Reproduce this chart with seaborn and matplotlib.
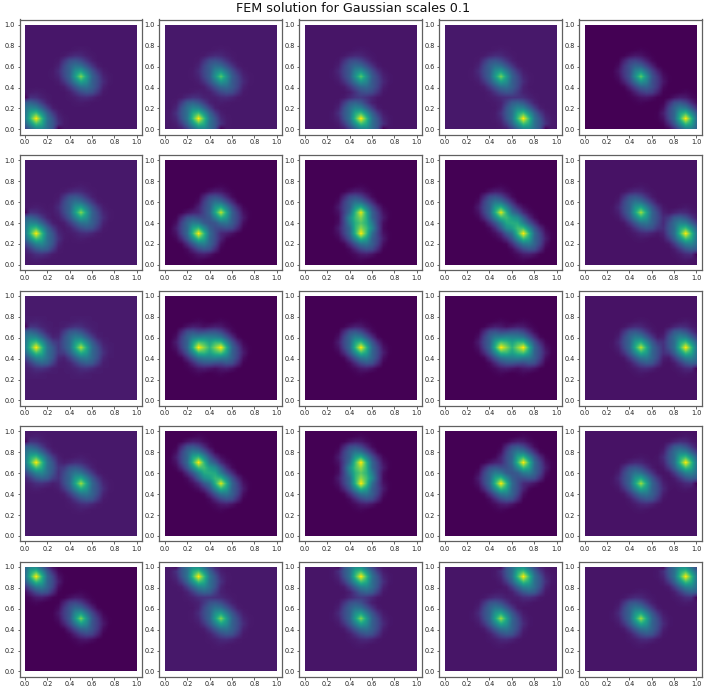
"""FEM solution grid: two Gaussian sources, one panel per second source position."""
import numpy as np
import matplotlib
matplotlib.use("Agg")
import matplotlib.pyplot as plt
from matplotlib.patches import Rectangle
import seaborn as sns

sns.set_style("ticks")
plt.rcParams['font.family'] = ['DejaVu Sans']

tick_values = [0.0, 0.2, 0.4, 0.6, 0.8, 1.0]
title_text = "FEM solution for Gaussian scales 0.1"

# second source position, node index on the 0.05 mesh
source_col = [2, 6, 10, 14, 18]     # x = 0.1 ... 0.9
source_row = [2, 6, 10, 14, 18]     # y = 0.1 ... 0.9, first figure row first
center_node = 10

# one bump, top row is y offset +0.25
bump = [
    [0.00, 0.00, 0.00, 0.00, 0.01, 0.02, 0.01, 0.00, 0.00, 0.00, 0.00],
    [0.00, 0.00, 0.01, 0.05, 0.08, 0.07, 0.03, 0.01, 0.00, 0.00, 0.00],
    [0.00, 0.01, 0.12, 0.24, 0.27, 0.22, 0.12, 0.03, 0.00, 0.00, 0.00],
    [0.00, 0.04, 0.20, 0.32, 0.42, 0.40, 0.27, 0.13, 0.02, 0.00, 0.00],
    [0.01, 0.08, 0.22, 0.33, 0.58, 0.68, 0.48, 0.27, 0.12, 0.02, 0.00],
    [0.01, 0.05, 0.20, 0.34, 0.66, 1.00, 0.66, 0.34, 0.20, 0.05, 0.01],
    [0.00, 0.02, 0.12, 0.27, 0.48, 0.68, 0.58, 0.33, 0.22, 0.08, 0.01],
    [0.00, 0.00, 0.02, 0.13, 0.27, 0.40, 0.42, 0.32, 0.20, 0.04, 0.00],
    [0.00, 0.00, 0.00, 0.03, 0.12, 0.22, 0.27, 0.24, 0.12, 0.01, 0.00],
    [0.00, 0.00, 0.00, 0.01, 0.03, 0.07, 0.08, 0.05, 0.01, 0.00, 0.00],
    [0.00, 0.00, 0.00, 0.00, 0.01, 0.02, 0.01, 0.00, 0.00, 0.00, 0.00],
]

# per panel levels, figure rows top to bottom
background = [
    [0.065, 0.07, 0.06, 0.07, 0.00],
    [0.07, 0.00, 0.00, 0.00, 0.05],
    [0.08, 0.00, 0.00, 0.00, 0.05],
    [0.07, 0.00, 0.00, 0.00, 0.05],
    [0.00, 0.07, 0.06, 0.06, 0.06],
]
center_amp = [
    [0.80, 0.72, 0.72, 0.78, 0.75],
    [0.80, 0.90, 0.95, 0.95, 0.85],
    [0.88, 1.00, 1.00, 1.00, 0.90],
    [0.85, 0.95, 1.00, 1.00, 0.85],
    [0.80, 0.80, 0.80, 0.85, 0.85],
]
source_amp = [
    [1.00, 1.00, 1.00, 1.00, 1.00],
    [1.00, 1.00, 1.00, 1.00, 1.00],
    [1.00, 1.00, 0.00, 1.00, 1.00],
    [1.00, 1.00, 1.00, 1.00, 1.00],
    [1.00, 1.00, 1.00, 1.00, 1.00],
]

# dark notches on the border next to a source: figure row, figure col, node row, node col
edge_dips = [
    (0, 0, 6, 0), (1, 0, 10, 0), (2, 0, 14, 0), (3, 0, 18, 0),
    (0, 0, 0, 6), (0, 1, 0, 10), (0, 2, 0, 14), (0, 3, 0, 18),
    (4, 1, 20, 2), (4, 2, 20, 6), (4, 3, 20, 10), (4, 4, 20, 14),
    (1, 4, 2, 20), (2, 4, 6, 20), (3, 4, 10, 20), (4, 4, 14, 20),
]


def add_bump(field, row, col, amp):
    stamp = np.array(bump)[::-1] * amp
    for i in range(11):
        for j in range(11):
            r, c = row + i - 5, col + j - 5
            if 0 <= r < 21 and 0 <= c < 21:
                field[r, c] += stamp[i, j]


cmap = sns.color_palette("viridis", as_cmap=True)
fig, axes = plt.subplots(5, 5, figsize=(7.06, 6.93))

for i in range(5):
    for j in range(5):
        ax = axes[i, j]
        z = np.full((21, 21), float(background[i][j]))
        add_bump(z, center_node, center_node, center_amp[i][j])
        if source_amp[i][j] > 0:
            add_bump(z, source_row[i], source_col[j], source_amp[i][j])
        for fr, fc, nr, nc in edge_dips:
            if fr == i and fc == j:
                z[nr, nc] = 0.0
        # half a cell past the mesh on each side, then clipped back to the unit square
        im = ax.imshow(z, origin="lower", extent=[-0.025, 1.025, -0.025, 1.025],
                       interpolation="bilinear", aspect="auto", cmap=cmap,
                       vmin=0, vmax=z.max())
        im.set_clip_path(Rectangle((0, 0), 1, 1, transform=ax.transData))
        ax.set_xlim(-0.05, 1.05)
        ax.set_ylim(-0.05, 1.05)
        ax.set_xticks(tick_values)
        ax.set_yticks(tick_values)
        ax.tick_params(labelsize=4.7, length=1.8, width=0.5, pad=1.5,
                       colors="#222222")
        for s in ax.spines.values():
            s.set_linewidth(0.9)
            s.set_color("#606060")

fig.suptitle(title_text, fontsize=9.2, x=0.5, y=0.997, color="#111111")
fig.subplots_adjust(left=19.5 / 706, right=702 / 706, top=1 - 19.5 / 693,
                    bottom=1 - 676.7 / 693, wspace=0.138, hspace=0.177)
fig.savefig("out.png", dpi=100)
